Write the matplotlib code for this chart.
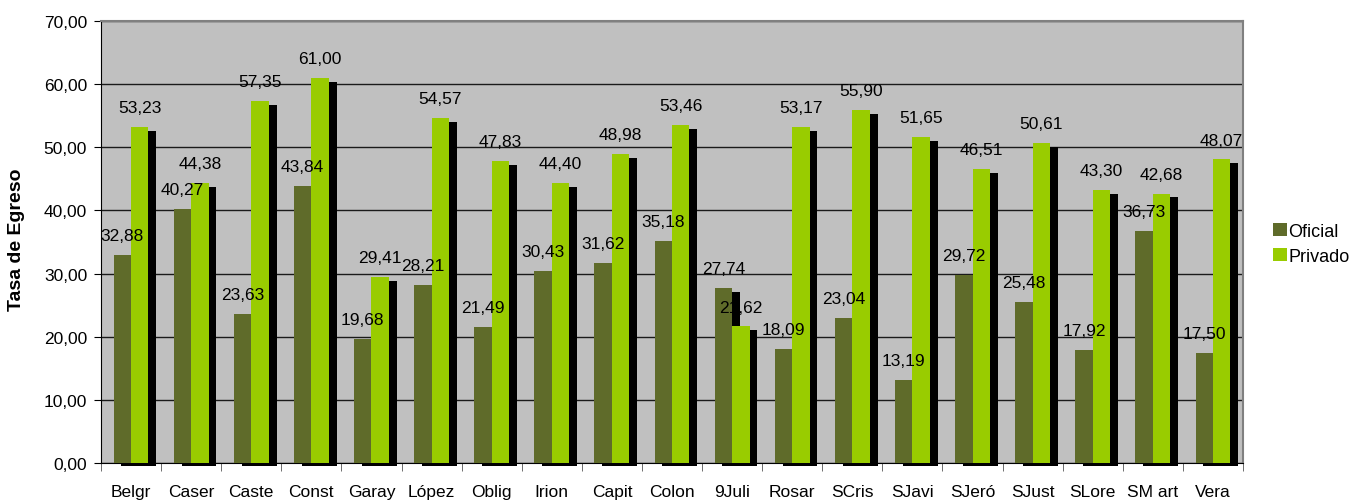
import matplotlib.pyplot as plt
import numpy as np

# tasa de egreso por departamento, sector oficial vs privado
departamentos = ['Belgr', 'Caser', 'Caste', 'Const', 'Garay', 'López', 'Oblig', 'Irion',
                 'Capit', 'Colon', '9Juli', 'Rosar', 'SCris', 'SJavi', 'SJeró', 'SJust',
                 'SLore', 'SM art', 'Vera']
oficial = [32.88, 40.27, 23.63, 43.84, 19.68, 28.21, 21.49, 30.43, 31.62, 35.18,
           27.74, 18.09, 23.04, 13.19, 29.72, 25.48, 17.92, 36.73, 17.50]
privado = [53.23, 44.38, 57.35, 61.00, 29.41, 54.57, 47.83, 44.40, 48.98, 53.46,
           21.62, 53.17, 55.90, 51.65, 46.51, 50.61, 43.30, 42.68, 48.07]
yticks = np.arange(0, 71, 10)

plt.rcParams['font.family'] = ['Liberation Sans', 'DejaVu Sans']

fig = plt.figure(figsize=(13.54, 5.02), dpi=100)
ax = fig.add_axes([101/1354, 1-464/502, (1243-101)/1354, (464-22)/502])
ax.set_facecolor('#C0C0C0')

x = np.arange(len(departamentos))
w = 0.29
dx, dy = 0.13, 0.63  # sombra

for vals, off in ((oficial, -w/2), (privado, w/2)):
    v = np.array(vals)
    ax.bar(x + off + dx, v - dy + 0.48, width=w, bottom=-0.48, color='black',
           clip_on=False, zorder=2)

b1 = ax.bar(x - w/2, oficial, width=w, color='#5F6B2A', label='Oficial', zorder=3)
b2 = ax.bar(x + w/2, privado, width=w, color='#99CC00', label='Privado', zorder=3)

for bars in (b1, b2):
    for r in bars:
        h = r.get_height()
        ax.annotate(f'{h:.2f}'.replace('.', ','), (r.get_x() + r.get_width()/2, h),
                    xytext=(0, 14), textcoords='offset points', ha='center', va='center',
                    fontsize=12.5, zorder=5)

ax.set_xlim(-0.5, len(departamentos) - 0.5)
ax.set_ylim(0, 70)
ax.set_yticks(yticks)
ax.set_yticklabels([f'{t:.2f}'.replace('.', ',') for t in yticks], fontsize=12.5)
ax.yaxis.grid(True, color='#1a1a1a', linewidth=1)
ax.set_axisbelow(True)
ax.tick_params(axis='y', length=5, direction='out', pad=5)

ax.set_xticks(x)
ax.set_xticklabels(departamentos, fontsize=12.5)
ax.set_xticks(np.arange(-0.5, len(departamentos)), minor=True)
ax.tick_params(axis='x', which='major', length=0, pad=15)
ax.tick_params(axis='x', which='minor', length=6, color='#555555')

for s in ('left', 'bottom'):
    ax.spines[s].set_color('black')
for s in ('top', 'right'):
    ax.spines[s].set_color('#808080')
    ax.spines[s].set_linewidth(1.5)

fig.text(17/1354, 1-240/502, 'Tasa de Egreso', rotation=90, ha='center', va='center',
         fontsize=14, fontweight='bold')

fig.legend(handles=[b1, b2], loc='center left', bbox_to_anchor=(1266/1354, 1-245/502),
           frameon=False, fontsize=13, handlelength=0.75, handleheight=0.75,
           handletextpad=0.1, labelspacing=0.45, borderaxespad=0)

fig.savefig('out.png', dpi=100)
